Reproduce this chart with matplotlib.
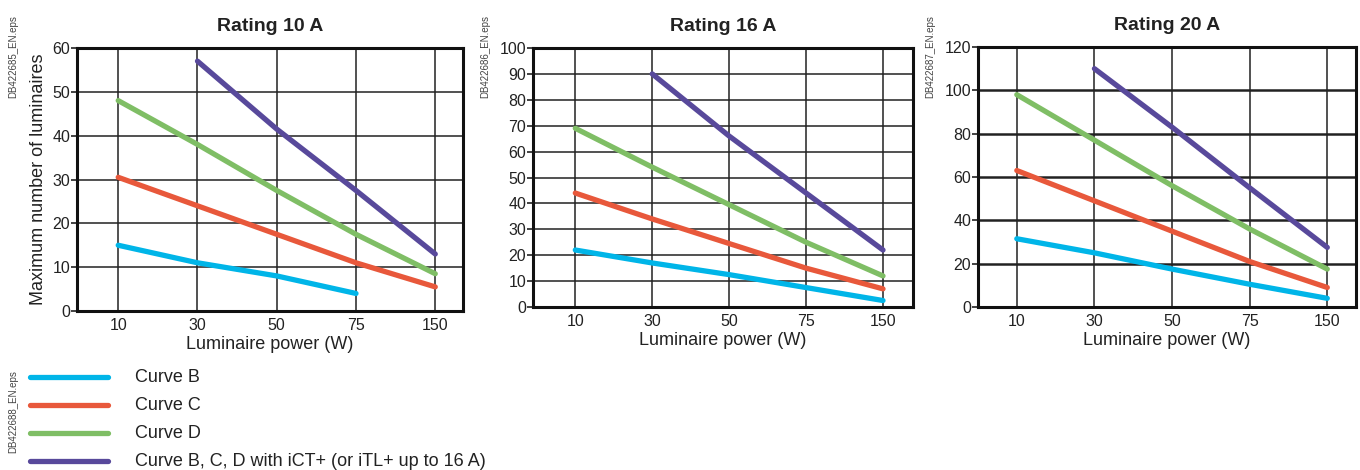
"""
Maximum number of luminaires per circuit breaker rating.
"""

import matplotlib
matplotlib.use("Agg")
import matplotlib.pyplot as plt

plt.rcParams['font.family'] = ['Liberation Sans', 'DejaVu Sans']

# categories on the x axis (equally spaced)
power_labels = ["10", "30", "50", "75", "150"]

# Rating 10 A
r10_curve_b = [15, 11, 8, 4, None]
r10_curve_c = [30.5, 24, 17.5, 11, 5.5]
r10_curve_d = [48, 38, 27.5, 17.5, 8.5]
r10_ict = [None, 57, 41.5, 27.5, 13]

# Rating 16 A
r16_curve_b = [22, 17, 12.5, 7.5, 2.5]
r16_curve_c = [44, 34, 24.5, 15, 7]
r16_curve_d = [69, 54, 39.5, 25, 12]
r16_ict = [None, 90, 66, 44, 22]

# Rating 20 A
r20_curve_b = [31.5, 25, 17.5, 10.5, 4]
r20_curve_c = [63, 49, 35, 21, 9]
r20_curve_d = [98, 77, 56, 36, 17.5]
r20_ict = [None, 110, 83, 55, 27.5]

series_labels = ["Curve B", "Curve C", "Curve D",
                 "Curve B, C, D with iCT+ (or iTL+ up to 16 A)"]
series_colors = ["#00b5e8", "#e8583b", "#7fbe65", "#58499b"]

titles = ["Rating 10 A", "Rating 16 A", "Rating 20 A"]
file_tags = ["DB422685_EN.eps", "DB422686_EN.eps", "DB422687_EN.eps"]
y_max = [60, 100, 120]
y_step = [10, 10, 20]
panels = [
    [r10_curve_b, r10_curve_c, r10_curve_d, r10_ict],
    [r16_curve_b, r16_curve_c, r16_curve_d, r16_ict],
    [r20_curve_b, r20_curve_c, r20_curve_d, r20_ict],
]

W, H = 1360, 470
fig = plt.figure(figsize=(W / 100, H / 100), dpi=100)

# axes boxes in pixels: left, top, right, bottom
boxes = [(77, 48, 463, 311), (533, 48, 913, 307), (978, 47, 1356, 307)]
xlims = [(-0.52, 4.35), (-0.55, 4.39), (-0.5, 4.37)]
tag_x = [13, 485, 930]

for i, (l, t, r, b) in enumerate(boxes):
    ax = fig.add_axes([l / W, (H - b) / H, (r - l) / W, (b - t) / H])
    x = list(range(len(power_labels)))
    for vals, color in zip(panels[i], series_colors):
        pts = [(xi, v) for xi, v in zip(x, vals) if v is not None]
        ax.plot([p[0] for p in pts], [p[1] for p in pts], color=color,
                lw=3.8, solid_capstyle='round', zorder=3)
    ax.set_xlim(*xlims[i])
    ax.set_ylim(0, y_max[i])
    ax.set_xticks(x)
    ax.set_xticklabels(power_labels)
    ax.set_yticks(range(0, y_max[i] + 1, y_step[i]))
    hlw = 1.8 if i == 2 else 1.1
    ax.grid(axis='y', color='#222222', lw=hlw, zorder=1)
    ax.grid(axis='x', color='#222222', lw=1.1, zorder=1)
    for s in ax.spines.values():
        s.set_linewidth(2.2)
        s.set_color('#111111')
    ax.tick_params(axis='x', length=0, pad=5, labelsize=11.5, colors='#222222')
    ax.tick_params(axis='y', length=4, width=1.2, pad=1, labelsize=11.5,
                   colors='#222222')
    ax.set_xlabel("Luminaire power (W)", fontsize=13, color='#222222', labelpad=2)
    ax.set_title(titles[i], fontsize=14, fontweight='bold', pad=12,
                 color='#222222')
    if i == 0:
        ax.set_ylabel("Maximum number of luminaires", fontsize=13,
                      color='#222222', labelpad=4)
    fig.text(tag_x[i] / W, (H - 15) / H, file_tags[i], rotation=90,
             fontsize=7, color='#444444', ha='center', va='top')

# legend drawn as its own axes
lax = fig.add_axes([0, 0, 1, 105 / H])
lax.set_xlim(0, W)
lax.set_ylim(105, 0)
lax.axis('off')
leg_y = [12, 40, 68, 96]
for yy, label, color in zip(leg_y, series_labels, series_colors):
    lax.plot([30, 108], [yy, yy], color=color, lw=3.8, solid_capstyle='round')
    lax.text(135, yy, label, fontsize=13, va='center', color='#222222')
fig.text(13 / W, (H - 370) / H, "DB422688_EN.eps", rotation=90,
         fontsize=7, color='#444444', ha='center', va='top')

fig.savefig("out.png", dpi=100)
